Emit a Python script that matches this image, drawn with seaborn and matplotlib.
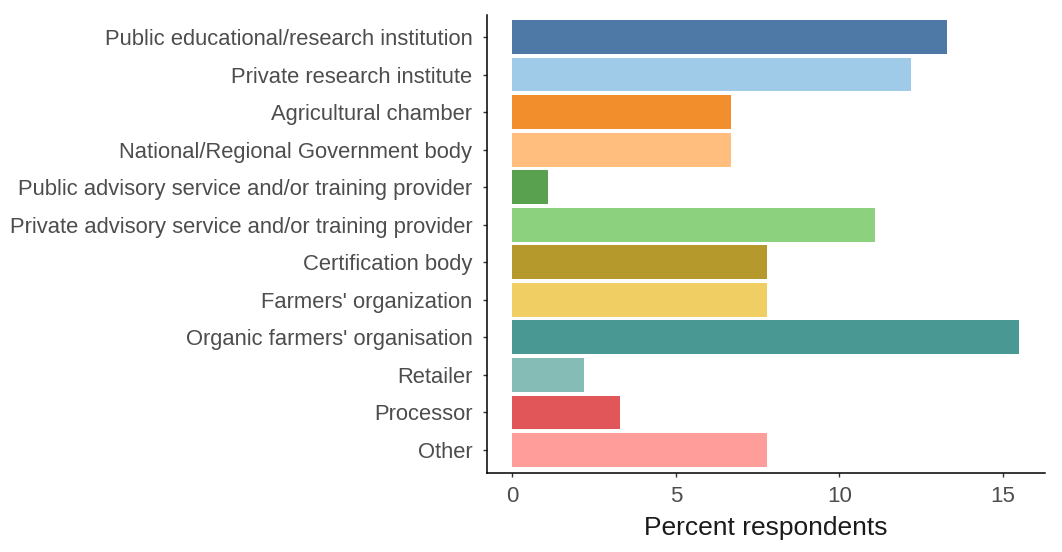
import matplotlib
matplotlib.use('Agg')
import matplotlib.pyplot as plt
import seaborn as sns
import pandas as pd

# ---------------------------------------------------------------------------
# Data — percent of respondents by organisation type
# ---------------------------------------------------------------------------
categories = [
    'Public educational/research institution',
    'Private research institute',
    'Agricultural chamber',
    'National/Regional Government body',
    'Public advisory service and/or training provider',
    'Private advisory service and/or training provider',
    'Certification body',
    "Farmers' organization",
    "Organic farmers' organisation",
    'Retailer',
    'Processor',
    'Other',
]
percent = [13.3, 12.2, 6.7, 6.7, 1.1, 11.1, 7.8, 7.8, 15.5, 2.2, 3.3, 7.8]

# Tableau 20 colours, one per category
palette = ['#4E79A7', '#A0CBE8', '#F28E2B', '#FFBE7D', '#59A14F', '#8CD17D',
           '#B6992D', '#F1CE63', '#499894', '#86BCB6', '#E15759', '#FF9D9A']

df = pd.DataFrame({'category': categories, 'percent': percent})

sns.set_style('white')
plt.rcParams['font.family'] = ['Liberation Sans', 'DejaVu Sans']

fig = plt.figure(figsize=(10.62, 5.52), dpi=100)
ax = fig.add_axes([0.4586, 0.144, 0.525, 0.8297])

sns.barplot(data=df, x='percent', y='category', hue='category',
            palette=palette, legend=False, orient='h', width=0.9,
            linewidth=0, saturation=1, ax=ax)

xmax = max(percent)
ax.set_xlim(-0.05 * xmax, xmax * 1.05)
ax.set_ylim(len(categories) - 0.4, -0.6)
ax.set_xticks([0, 5, 10, 15])
ax.set_xlabel('Percent respondents', fontsize=19, color='#1a1a1a', labelpad=7)
ax.set_ylabel('')

for side in ['top', 'right']:
    ax.spines[side].set_visible(False)
for side in ['left', 'bottom']:
    ax.spines[side].set_color('black')
    ax.spines[side].set_linewidth(1.1)

ax.tick_params(axis='both', which='both', length=3, width=1,
               color='#333333', labelcolor='#4D4D4D',
               left=True, bottom=True)
ax.tick_params(axis='y', labelsize=15.8, pad=7.5)
ax.tick_params(axis='x', labelsize=16, pad=6.5)

plt.savefig('out.png', dpi=100)
plt.close()
